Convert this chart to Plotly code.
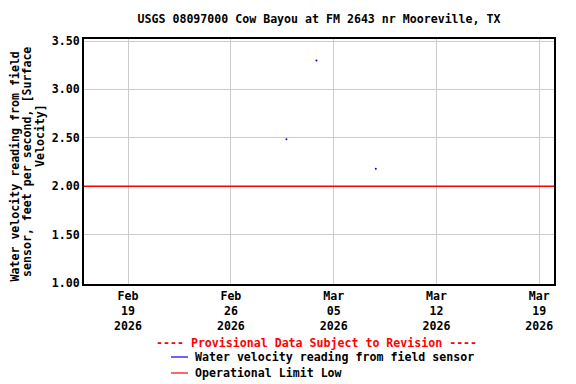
import plotly.graph_objects as go

# ---- data ----
sensor_times = ["2026-03-01 18:45", "2026-03-03 19:50", "2026-03-07 20:50"]
sensor_values = [2.485, 3.30, 2.18]
limit_times = ["2026-02-16 00:00", "2026-03-20 00:00"]
limit_values = [2.0, 2.0]
x_tick_vals = ["2026-02-19", "2026-02-26", "2026-03-05", "2026-03-12", "2026-03-19"]
x_tick_text = ["Feb<br>19<br>2026", "Feb<br>26<br>2026", "Mar<br>05<br>2026",
               "Mar<br>12<br>2026", "Mar<br>19<br>2026"]
y_tick_vals = [1.0, 1.5, 2.0, 2.5, 3.0, 3.5]
y_tick_text = ["1.00", "1.50", "2.00", "2.50", "3.00", "3.50"]
title_text = "USGS 08097000 Cow Bayou at FM 2643 nr Mooreville, TX"
y_title_lines = ["Water velocity reading from field",
                 "sensor, feet per second, [Surface",
                 "Velocity]"]
legend_names = ["Water velocity reading from field sensor", "Operational Limit Low"]
legend_colors = ["#0000ff", "#ff0000"]
provisional = "---- Provisional Data Subject to Revision ----"

FONT = dict(family="DejaVu Sans Mono", size=11.6, color="black", weight="bold")

# page offset of 8px (body margin) is compensated below
OFF = 8
PL, PT, PW, PH = 84, 39, 470, 245  # plot box in page pixels
W, H = 576 - OFF, 384 - OFF


def px(xp):
    return (xp - PL) / PW


def py(yp):
    return (PT + PH - yp) / PH


fig = go.Figure()
fig.add_trace(go.Scatter(x=limit_times, y=limit_values, mode="lines",
                         line=dict(color=legend_colors[1], width=1.5),
                         name=legend_names[1], showlegend=False))
fig.add_trace(go.Scatter(x=sensor_times, y=sensor_values, mode="markers",
                         marker=dict(color=legend_colors[0], size=2, line=dict(width=0)),
                         name=legend_names[0], showlegend=False))

fig.update_layout(
    width=W, height=H,
    margin=dict(l=PL - OFF, r=W - (PL - OFF) - PW, t=PT - OFF, b=H - (PT - OFF) - PH),
    paper_bgcolor="white", plot_bgcolor="white",
    font=FONT,
    title=dict(text=title_text, x=0.5, xref="paper", xanchor="center",
               y=1 - (19 - OFF) / H, yref="container", yanchor="middle", font=FONT),
    xaxis=dict(range=["2026-02-16 00:00", "2026-03-20 00:00"], tickvals=x_tick_vals,
               ticktext=x_tick_text, showgrid=True, gridcolor="#cccccc", gridwidth=1,
               showline=True, linecolor="black", linewidth=2, mirror=True,
               ticks="", zeroline=False, tickfont=FONT),
    yaxis=dict(range=[0.99, 3.521], tickvals=y_tick_vals, ticktext=y_tick_text,
               showgrid=True, gridcolor="#cccccc", gridwidth=1,
               showline=True, linecolor="black", linewidth=2, mirror=True,
               ticks="", zeroline=False, tickfont=FONT),
)

# y axis title, one annotation per line
for xpx, ypx, line in zip([14.5, 27, 40], [167, 162, 136], y_title_lines):
    fig.add_annotation(text=line, xref="paper", yref="paper",
                       x=px(xpx), y=py(ypx), xanchor="center", yanchor="middle",
                       textangle=-90, showarrow=False, font=FONT)

# provisional note
fig.add_annotation(text=provisional, xref="paper", yref="paper",
                   x=px(316), y=py(343), xanchor="center", yanchor="middle",
                   showarrow=False, font=dict(FONT, color="#ff0000"))

# legend
for i, (name, col) in enumerate(zip(legend_names, legend_colors)):
    yp = py(357 + i * 16)
    fig.add_shape(type="line", xref="paper", yref="paper",
                  x0=px(171), x1=px(188), y0=yp, y1=yp,
                  line=dict(color=col, width=1.2))
    fig.add_annotation(text=name, xref="paper", yref="paper",
                       x=px(193), y=yp, xanchor="left", yanchor="middle",
                       showarrow=False, font=FONT)

fig.write_html("out.html")
